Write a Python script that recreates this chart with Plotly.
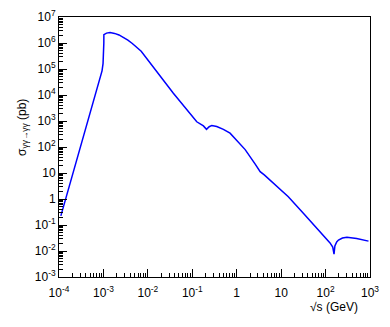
import plotly.graph_objects as go

# sqrt(s) in GeV and cross-section in pb
sqrt_s = [1.10e-4, 1.58e-4, 2.57e-4, 5.01e-4, 7.2e-4, 8.38e-4, 9.3e-4, 9.8e-4, 1.012e-3, 1.021e-3,
          1.023e-3, 1.175e-3, 1.41e-3, 1.78e-3, 2.24e-3, 2.82e-3, 3.55e-3, 4.47e-3,
          5.62e-3, 7.08e-3, 3.75e-2, 0.106, 0.126, 0.178, 0.209, 0.240, 0.275,
          0.355, 0.501, 0.708, 1.0, 1.55, 2.63, 3.37, 4.17, 5.65, 7.94, 14.5,
          31.6, 126, 145, 155, 162, 178, 195, 240, 302, 501, 925]
sigma = [0.224, 2.04, 31.6, 1995, 1.9e4, 4.47e4, 8.5e4, 1.6e5, 4.0e5, 1.0e6,
         2.09e6, 2.40e6, 2.51e6, 2.34e6, 2.04e6, 1.66e6, 1.29e6, 9.55e5,
         6.92e5, 4.79e5, 1.17e4, 1260, 933, 646, 479, 603, 676,
         617, 479, 339, 186, 79.4, 21.4, 11.2, 8.51, 5.37, 3.31, 1.23,
         0.282, 0.0204, 0.0141, 0.0076, 0.0158, 0.0224, 0.0263, 0.0316, 0.0339, 0.0302, 0.024]

x_major = [1e-4, 1e-3, 1e-2, 1e-1, 1, 10, 1e2, 1e3]
x_labels = ["10<sup>-4</sup>", "10<sup>-3</sup>", "10<sup>-2</sup>", "10<sup>-1</sup>",
            "1", "10", "10<sup>2</sup>", "10<sup>3</sup>"]
y_major = [1e-3, 1e-2, 1e-1, 1, 10, 1e2, 1e3, 1e4, 1e5, 1e6, 1e7]
y_labels = ["10<sup>-3</sup>", "10<sup>-2</sup>", "10<sup>-1</sup>", "1", "10",
            "10<sup>2</sup>", "10<sup>3</sup>", "10<sup>4</sup>", "10<sup>5</sup>",
            "10<sup>6</sup>", "10<sup>7</sup>"]

x_minor = [k * 10.0 ** n for n in range(-4, 3) for k in range(2, 10)]
y_minor = [k * 10.0 ** n for n in range(-3, 7) for k in range(2, 10)]

fig = go.Figure()
fig.add_trace(go.Scatter(x=sqrt_s, y=sigma, mode="lines",
                         line=dict(color="#0000ff", width=1.5), showlegend=False))

font = dict(family="Liberation Sans, Arial, sans-serif", size=12, color="black")

fig.update_layout(
    width=382, height=319,
    margin=dict(l=51, r=20, t=9, b=50),
    paper_bgcolor="white", plot_bgcolor="white",
    font=font,
    xaxis=dict(type="log", range=[-4, 3], showgrid=False, zeroline=False,
               automargin=False, ticklabelstandoff=5,
               showline=True, linecolor="black", linewidth=1, mirror=True,
               tickmode="array", tickvals=x_major, ticktext=x_labels,
               ticks="inside", ticklen=8, tickcolor="black", tickwidth=1,
               minor=dict(tickmode="array", tickvals=x_minor, ticks="inside",
                          ticklen=4, tickcolor="black", showgrid=False),
               tickfont=font),
    yaxis=dict(type="log", range=[-3, 7], showgrid=False, zeroline=False,
               automargin=False,
               showline=True, linecolor="black", linewidth=1, mirror=True,
               tickmode="array", tickvals=y_major, ticktext=y_labels,
               ticks="inside", ticklen=8, tickcolor="black", tickwidth=1,
               minor=dict(tickmode="array", tickvals=y_minor, ticks="inside",
                          ticklen=4, tickcolor="black", showgrid=False),
               tickfont=font),
    annotations=[
        dict(text="σ<sub>γγ→γγ</sub> (pb)", xref="paper", yref="paper",
             x=-0.116, y=0.577, textangle=-90, showarrow=False,
             xanchor="center", yanchor="middle", font=font),
        dict(text="√s (GeV)", xref="paper", yref="paper",
             x=0.968, y=-0.116, showarrow=False,
             xanchor="right", yanchor="middle", font=font),
    ],
)

fig.write_html("out.html")
